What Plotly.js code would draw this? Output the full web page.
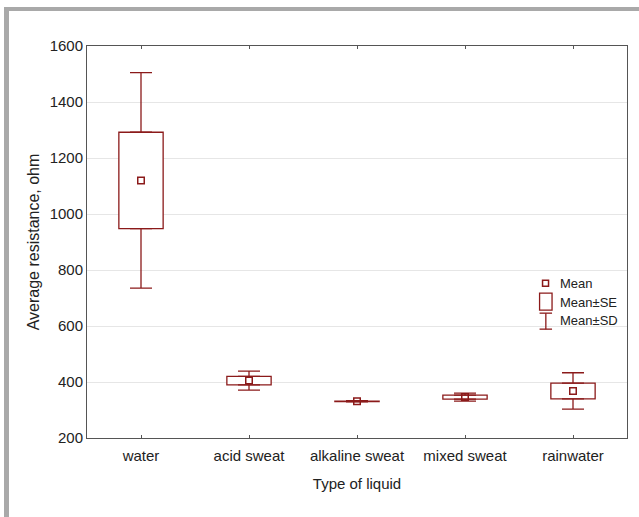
<!DOCTYPE html>
<html>
<head>
<meta charset="utf-8">
<script src="https://cdn.plot.ly/plotly-3.0.1.min.js"></script>
<style>
  html, body { margin: 0; padding: 0; background: #fff; }
  #chart { position: absolute; left: 0; top: 0; width: 639px; height: 517px; }
  #frame { position: absolute; left: 4px; top: 7px; width: 640px; height: 506px;
           border-left: 5px solid #a9a9a9; border-top: 4px solid #a9a9a9;
           border-bottom: 2px solid #c4c4c4; pointer-events: none; }
</style>
</head>
<body>
<div id="chart"></div>
<div id="frame"></div>
<script>
const categories = ['water', 'acid sweat', 'alkaline sweat', 'mixed sweat', 'rainwater'];
const means = [1120, 405, 331, 346, 368];
const se = [172, 15, 1, 7, 28];
const sd = [385, 34, 2, 14, 65];
const yTicks = [200, 400, 600, 800, 1000, 1200, 1400, 1600];
const legendLabels = ['Mean', 'Mean±SE', 'Mean±SD'];

const red = '#8b1a1a';

const seBase = means.map((m, i) => m - se[i]);
const seSpan = se.map(s => 2 * s);
const seTop = means.map((m, i) => m + se[i]);
const sdUp = sd.map((s, i) => s - se[i]);
const zeros = sd.map(() => 0);

const traces = [
  {
    type: 'bar', name: 'Mean±SE', x: categories, y: seSpan, base: seBase,
    width: 0.41, marker: { color: '#ffffff', line: { color: red, width: 1.3 } },
    hoverinfo: 'skip'
  },
  {
    type: 'scatter', mode: 'markers', name: 'Mean±SD upper', x: categories, y: seTop,
    marker: { size: 1, opacity: 0, color: red },
    error_y: { type: 'data', symmetric: false, array: sdUp, arrayminus: zeros, color: red, thickness: 1.3, width: 11 },
    hoverinfo: 'skip'
  },
  {
    type: 'scatter', mode: 'markers', name: 'Mean±SD lower', x: categories, y: seBase,
    marker: { size: 1, opacity: 0, color: red },
    error_y: { type: 'data', symmetric: false, array: zeros, arrayminus: sdUp, color: red, thickness: 1.3, width: 11 },
    hoverinfo: 'skip'
  },
  {
    type: 'scatter', mode: 'markers', name: 'Mean', x: categories, y: means,
    marker: { symbol: 'square-open', size: 6.5, color: red, line: { width: 1.5, color: red } }
  }
];

// Hand-built legend (symbols in paper coordinates)
const lineStyle = { color: red, width: 1.3 };
const legendShapes = [
  { type: 'rect', xref: 'paper', yref: 'paper', x0: 0.8436, x1: 0.8547, y0: 0.3873, y1: 0.4025, line: { color: red, width: 1.5 }, fillcolor: 'rgba(0,0,0,0)' },
  { type: 'rect', xref: 'paper', yref: 'paper', x0: 0.8381, x1: 0.8612, y0: 0.3261, y1: 0.3694, line: lineStyle, fillcolor: 'rgba(0,0,0,0)' },
  { type: 'line', xref: 'paper', yref: 'paper', x0: 0.8497, x1: 0.8497, y0: 0.2777, y1: 0.3185, line: lineStyle },
  { type: 'line', xref: 'paper', yref: 'paper', x0: 0.8381, x1: 0.8612, y0: 0.3185, y1: 0.3185, line: lineStyle },
  { type: 'line', xref: 'paper', yref: 'paper', x0: 0.8381, x1: 0.8612, y0: 0.2777, y1: 0.2777, line: lineStyle }
];
const legendY = [0.3954, 0.3445, 0.3001];
const legendAnn = legendLabels.map((t, i) => ({
  xref: 'paper', yref: 'paper', x: 0.872, y: legendY[i], xanchor: 'left', yanchor: 'middle',
  text: t, showarrow: false, font: { size: 13, color: '#222' }
}));

const layout = {
  width: 639, height: 517,
  margin: { l: 87, r: 12, t: 46, b: 79 },
  paper_bgcolor: '#ffffff', plot_bgcolor: '#ffffff',
  font: { family: 'Arial, "Liberation Sans", sans-serif', size: 15, color: '#222' },
  showlegend: false,
  shapes: legendShapes,
  annotations: legendAnn,
  xaxis: {
    type: 'category', range: [-0.5, 4.5], showgrid: false, zeroline: false,
    showline: true, linecolor: '#555', linewidth: 1, mirror: 'ticks',
    ticks: 'inside', ticklen: 3, tickcolor: '#555',
    ticklabelstandoff: 4,
    tickfont: { size: 15, color: '#222' },
    title: { text: 'Type of liquid', font: { size: 15, color: '#222' }, standoff: 15 }
  },
  yaxis: {
    range: [200, 1600], tickvals: yTicks, showgrid: true, gridcolor: '#e6e6e6', gridwidth: 1,
    zeroline: false, showline: true, linecolor: '#555', linewidth: 1, mirror: true,
    ticks: '', tickfont: { size: 15, color: '#222' },
    title: { text: 'Average resistance, ohm', font: { size: 16, color: '#222' }, standoff: 6 }
  }
};

Plotly.newPlot('chart', traces, layout, { displayModeBar: false, staticPlot: true });
</script>
</body>
</html>
